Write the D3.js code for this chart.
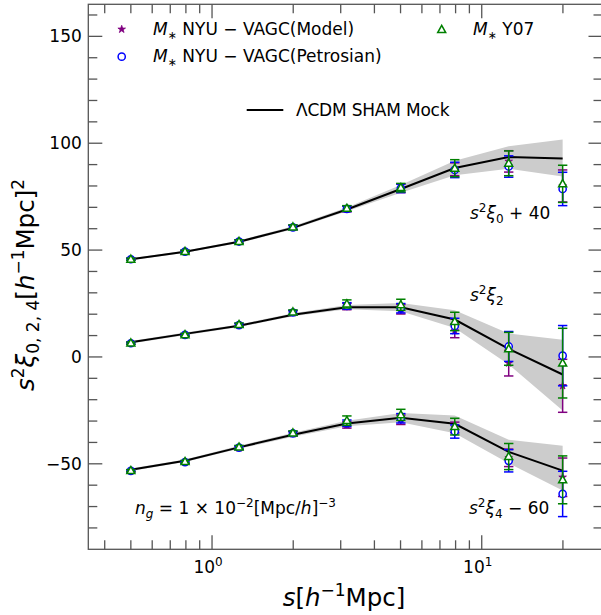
<!DOCTYPE html>
<html><head><meta charset="utf-8">
<script src="https://cdn.jsdelivr.net/npm/d3@7"></script>
<style>body{margin:0;background:#fff;} svg{display:block;font-family:"DejaVu Sans",sans-serif;}</style>
</head><body><svg id="c" width="601" height="615"></svg>
<script>
// ---- data ----
const sBins = [0.5, 0.794, 1.259, 1.995, 3.162, 5.012, 7.943, 12.589, 19.953];

const mock0   = [45.7, 49.2, 53.9, 60.4, 69.0, 78.6, 88.4, 93.5, 92.9];
const mock0Lo = [45.2, 48.7, 53.3, 59.7, 68.2, 76.8, 85.0, 88.0, 84.4];
const mock0Hi = [46.2, 49.7, 54.5, 61.1, 69.9, 80.4, 91.8, 98.6, 101.7];
const mock2   = [6.9, 10.8, 14.6, 19.7, 23.2, 23.2, 17.5, 3.8, -8.2];
const mock2Lo = [6.3, 10.2, 14.0, 19.0, 22.3, 21.4, 13.5, -3.5, -25.0];
const mock2Hi = [7.5, 11.4, 15.2, 20.5, 24.3, 25.2, 21.8, 11.0, 8.0];
const mock4   = [-52.8, -48.6, -42.3, -36.4, -31.1, -28.4, -31.3, -44.4, -53.2];
const mock4Lo = [-53.4, -49.2, -43.0, -37.3, -32.4, -30.6, -35.7, -49.7, -62.5];
const mock4Hi = [-52.2, -48.0, -41.6, -35.5, -29.8, -26.2, -27.4, -38.8, -41.5];

// NYU-VAGC (Model) - purple
const model0 = [45.7, 49.3, 54.0, 60.6, 69.2, 78.9, 87.8, 91.5, 80.0];
const model0Err = [0.5, 0.6, 0.8, 1.0, 1.3, 2.0, 3.0, 5.0, 7.5];
const model2 = [6.4, 10.3, 14.8, 20.6, 23.6, 22.3, 12.2, -2.9, -13.5];
const model2Err = [0.5, 0.6, 0.8, 1.0, 1.5, 2.2, 3.2, 6.0, 12.4];
const model4 = [-53.3, -49.2, -42.6, -36.0, -31.8, -29.4, -33.0, -47.2, -56.3];
const model4Err = [0.5, 0.6, 0.8, 1.0, 1.5, 2.2, 2.5, 4.1, 9.0];
// NYU-VAGC (Petrosian) - blue
const petro0 = [45.7, 49.3, 54.0, 60.6, 69.3, 78.9, 87.5, 89.1, 78.6];
const petro0Err = [0.5, 0.6, 0.8, 1.0, 1.3, 2.0, 3.6, 5.0, 7.8];
const petro2 = [6.4, 10.3, 14.9, 20.8, 23.9, 22.8, 14.5, 4.9, 0.6];
const petro2Err = [0.5, 0.6, 0.8, 1.0, 1.5, 2.2, 3.6, 7.0, 14.1];
const petro4 = [-53.3, -49.2, -42.4, -35.8, -31.0, -28.7, -34.9, -48.6, -64.1];
const petro4Err = [0.5, 0.6, 0.8, 1.0, 1.5, 2.2, 3.1, 5.2, 10.6];
// Y07 - green
const y07_0 = [45.7, 49.3, 54.0, 60.8, 69.5, 79.2, 88.3, 90.6, 81.0];
const y07_0Err = [0.5, 0.6, 0.8, 1.0, 1.3, 2.0, 4.0, 5.8, 8.7];
const y07_2 = [6.5, 10.4, 15.1, 21.0, 24.8, 24.4, 16.6, 3.8, -2.9];
const y07_2Err = [0.5, 0.6, 0.8, 1.0, 1.9, 2.6, 4.3, 7.7, 16.3];
const y07_4 = [-53.2, -49.0, -42.2, -35.6, -29.8, -27.1, -32.6, -46.6, -57.5];
const y07_4Err = [0.5, 0.6, 0.8, 1.0, 2.2, 2.6, 3.9, 6.1, 11.2];

const yMajor = [-50, 0, 50, 100, 150];
const yMinor = [-80,-70,-60,-40,-30,-20,-10,10,20,30,40,60,70,80,90,110,120,130,140,160];
const xMajor = [1, 10];
const xMajorLabels = ["0", "1"];
const xMinor = [0.4,0.5,0.6,0.7,0.8,0.9,2,3,4,5,6,7,8,9,20];

// ---- layout ----
const L = 88.3, R = 602.5, T = 4.3, B = 549.3;
const svg = d3.select("#c");
const x = d3.scaleLog().domain([0.3477, 28.04]).range([L, R]);
const y = d3.scaleLinear().domain([-90, 165]).range([B, T]);

// bands
const bands = [[mock0Lo, mock0Hi], [mock2Lo, mock2Hi], [mock4Lo, mock4Hi]];
const area = d3.area().x(d => x(d.s)).y0(d => y(d.lo)).y1(d => y(d.hi));
bands.forEach(([lo, hi]) => {
  svg.append("path").datum(sBins.map((s, i) => ({s, lo: lo[i], hi: hi[i]})))
    .attr("d", area).attr("fill", "#cccccc");
});
const line = d3.line().x(d => x(d.s)).y(d => y(d.v));
[mock0, mock2, mock4].forEach(arr => {
  svg.append("path").datum(sBins.map((s, i) => ({s, v: arr[i]})))
    .attr("d", line).attr("fill", "none").attr("stroke", "#000").attr("stroke-width", 2);
});

// series
const series = [
  {color: "purple", marker: "star", sets: [[model0, model0Err], [model2, model2Err], [model4, model4Err]]},
  {color: "blue", marker: "circle", sets: [[petro0, petro0Err], [petro2, petro2Err], [petro4, petro4Err]]},
  {color: "green", marker: "tri", sets: [[y07_0, y07_0Err], [y07_2, y07_2Err], [y07_4, y07_4Err]]},
];
function drawMarker(g, type, color, cx, cy) {
  if (type === "star") {
    g.append("path").attr("d", d3.symbol(d3.symbolStar, 18)()).attr("transform", `translate(${cx},${cy})`)
      .attr("fill", color).attr("stroke", color).attr("stroke-width", 0.8);
  } else if (type === "circle") {
    g.append("circle").attr("cx", cx).attr("cy", cy).attr("r", 3.6)
      .attr("fill", "#fff").attr("stroke", color).attr("stroke-width", 1.5);
  } else {
    const h = 4.2;
    g.append("path").attr("d", `M${cx},${cy-h}L${cx+h*0.95},${cy+h*0.7}L${cx-h*0.95},${cy+h*0.7}Z`)
      .attr("fill", "#fff").attr("stroke", color).attr("stroke-width", 1.5);
  }
}
series.forEach(sr => {
  const g = svg.append("g");
  sr.sets.forEach(([vals, errs]) => {
    vals.forEach((v, i) => {
      const cx = x(sBins[i]), e = errs[i];
      const y1 = y(v + e), y2 = y(v - e);
      g.append("line").attr("x1", cx).attr("x2", cx).attr("y1", y1).attr("y2", y2)
        .attr("stroke", sr.color).attr("stroke-width", 1.5);
      [y1, y2].forEach(yy => g.append("line").attr("x1", cx - 4.7).attr("x2", cx + 4.7)
        .attr("y1", yy).attr("y2", yy).attr("stroke", sr.color).attr("stroke-width", 1.5));
    });
  });
  sr.sets.forEach(([vals]) => vals.forEach((v, i) => drawMarker(g, sr.marker, sr.color, x(sBins[i]), y(v))));
});

// frame & ticks
const axc = "#555";
const ax = svg.append("g").attr("stroke", axc).attr("stroke-width", 1.3);
ax.append("rect").attr("x", L).attr("y", T).attr("width", R - L).attr("height", B - T).attr("fill", "none");
const MJ = 14, MN = 9;
xMajor.forEach(v => { const xx = x(v);
  ax.append("line").attr("x1", xx).attr("x2", xx).attr("y1", B).attr("y2", B - MJ);
  ax.append("line").attr("x1", xx).attr("x2", xx).attr("y1", T).attr("y2", T + MJ); });
xMinor.forEach(v => { const xx = x(v);
  ax.append("line").attr("x1", xx).attr("x2", xx).attr("y1", B).attr("y2", B - MN);
  ax.append("line").attr("x1", xx).attr("x2", xx).attr("y1", T).attr("y2", T + MN); });
yMajor.forEach(v => { const yy = y(v);
  ax.append("line").attr("x1", L).attr("x2", L + MJ).attr("y1", yy).attr("y2", yy);
  ax.append("line").attr("x1", R).attr("x2", R - MJ).attr("y1", yy).attr("y2", yy); });
yMinor.forEach(v => { const yy = y(v);
  ax.append("line").attr("x1", L).attr("x2", L + MN).attr("y1", yy).attr("y2", yy);
  ax.append("line").attr("x1", R).attr("x2", R - MN).attr("y1", yy).attr("y2", yy); });

// tick labels
yMajor.forEach(v => {
  svg.append("text").attr("x", L - 6.5).attr("y", y(v) + 6).attr("text-anchor", "end")
    .attr("font-size", 17).attr("fill", "#000").text(v < 0 ? "\u2212" + Math.abs(v) : v);
});
xMajor.forEach((v, i) => {
  const t = svg.append("text").attr("x", x(v) - 4).attr("y", 573).attr("text-anchor", "middle")
    .attr("font-size", 17).attr("fill", "#000");
  t.append("tspan").text("10");
  t.append("tspan").attr("dy", -7).attr("font-size", 12).text(xMajorLabels[i]);
});

// axis labels
const xl = svg.append("text").attr("x", 344).attr("y", 606).attr("text-anchor", "middle").attr("font-size", 24.5);
xl.append("tspan").attr("font-style", "italic").text("s");
xl.append("tspan").text("[");
xl.append("tspan").attr("font-style", "italic").text("h");
xl.append("tspan").attr("dy", -10).attr("font-size", 17).text("\u22121");
xl.append("tspan").attr("dy", 10).text("Mpc]");

const yl = svg.append("text").attr("transform", "translate(34,285) rotate(-90)").attr("text-anchor", "middle").attr("font-size", 24.5);
yl.append("tspan").attr("font-style", "italic").text("s");
yl.append("tspan").attr("dy", -10).attr("font-size", 17).text("2");
yl.append("tspan").attr("dy", 10).attr("font-style", "italic").text("\u03BE");
yl.append("tspan").attr("dy", 5).attr("font-size", 17).text("0, 2, 4");
yl.append("tspan").attr("dy", -5).text("[");
yl.append("tspan").attr("font-style", "italic").text("h");
yl.append("tspan").attr("dy", -10).attr("font-size", 17).text("\u22121");
yl.append("tspan").attr("dy", 10).text("Mpc]");
yl.append("tspan").attr("dy", -10).attr("font-size", 17).text("2");

// legend
function mstarText(xx, yy, rest) {
  const t = svg.append("text").attr("x", xx).attr("y", yy).attr("font-size", 17);
  t.append("tspan").attr("font-style", "italic").text("M");
  t.append("tspan").attr("dy", 4).attr("font-size", 11).text("\u2217");
  t.append("tspan").attr("dy", -4).text(" " + rest);
}
drawMarker(svg, "star", "purple", 121.7, 29.3);
mstarText(153, 35, "NYU \u2212 VAGC(Model)");
drawMarker(svg, "circle", "blue", 121.7, 56.7);
mstarText(153, 62, "NYU \u2212 VAGC(Petrosian)");
drawMarker(svg, "tri", "green", 441.7, 29.6);
mstarText(473, 35, "Y07");
svg.append("line").attr("x1", 246.7).attr("x2", 283.3).attr("y1", 110).attr("y2", 110).attr("stroke", "#000").attr("stroke-width", 2);
svg.append("text").attr("x", 296).attr("y", 116).attr("font-size", 17).attr("letter-spacing", -0.2).text("\u039BCDM SHAM Mock");

// annotations
function ann(xx, yy, sub, rest) {
  const t = svg.append("text").attr("x", xx).attr("y", yy).attr("font-size", 17);
  t.append("tspan").attr("font-style", "italic").text("s");
  t.append("tspan").attr("dy", -7).attr("font-size", 12).text("2");
  t.append("tspan").attr("dy", 7).attr("font-style", "italic").text("\u03BE");
  t.append("tspan").attr("dy", 4).attr("font-size", 12).text(sub);
  if (rest) t.append("tspan").attr("dy", -4).text(rest);
}
ann(470, 219, "0", " + 40");
ann(470, 301, "2", null);
ann(469, 514, "4", " \u2212 60");

const ng = svg.append("text").attr("x", 135).attr("y", 514).attr("font-size", 17);
ng.append("tspan").attr("font-style", "italic").text("n");
ng.append("tspan").attr("dy", 4).attr("font-size", 12).attr("font-style", "italic").text("g");
ng.append("tspan").attr("dy", -4).text(" = 1 \u00D7 10");
ng.append("tspan").attr("dy", -7).attr("font-size", 12).text("\u22122");
ng.append("tspan").attr("dy", 7).text("[Mpc/");
ng.append("tspan").attr("font-style", "italic").text("h");
ng.append("tspan").text("]");
ng.append("tspan").attr("dy", -7).attr("font-size", 12).text("\u22123");
</script></body></html>
